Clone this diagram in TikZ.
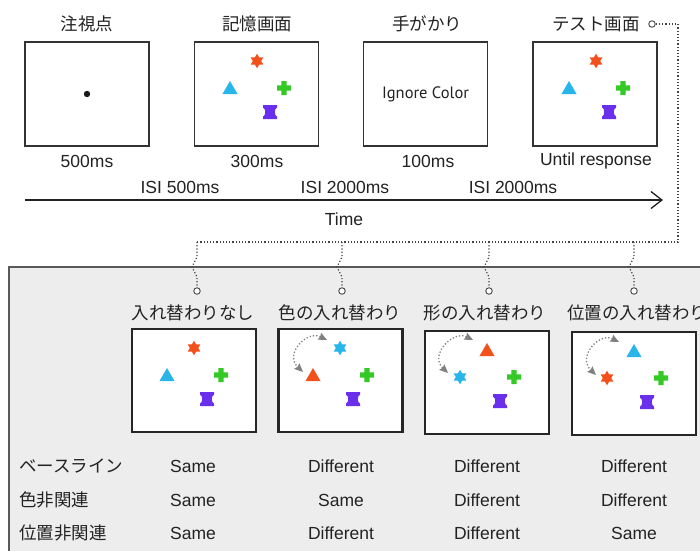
\documentclass[tikz,border=0pt]{standalone}
\usepackage{fontspec}
\setmainfont{Liberation Sans}
\newfontfamily\jp{Noto Sans CJK JP}
\newfontfamily\cuefont{PT Sans}
\usetikzlibrary{shapes.geometric,arrows.meta}
\definecolor{cR}{HTML}{F2511B}
\definecolor{cB}{HTML}{27B5EA}
\definecolor{cG}{HTML}{35C925}
\definecolor{cP}{HTML}{6A2FEA}
\definecolor{boxgray}{HTML}{EDEDED}
\definecolor{dotc}{HTML}{444444}
\definecolor{txt}{HTML}{222222}
\tikzset{
  lat/.style={text=txt,font=\fontsize{17.5}{21}\selectfont,inner sep=0pt},
  jpt/.style={text=txt,font=\jp\fontsize{17.5}{21}\selectfont,inner sep=0pt},
  topscreen/.style={draw=black!80,line width=1.6pt,fill=white,minimum width=124pt,minimum height=104pt,inner sep=0pt},
  botscreen/.style={draw=black!85,line width=2.2pt,fill=white,minimum width=124pt,minimum height=103pt,inner sep=0pt},
  dotline/.style={draw=dotc,line width=1.2pt,dotted},
  hole/.style={circle,draw=dotc,line width=0.9pt,fill=white,minimum size=6.5pt,inner sep=0pt},
  swaparrow/.style={draw=gray,line width=1.3pt,dotted,{Stealth[length=8.5pt,width=7.5pt,fill=gray,inset=1pt]}-{Stealth[length=8.5pt,width=7.5pt,fill=gray,inset=1pt]}},
  starsix/.pic={\path[pic actions] (90:7.3)--(120:4.2)--(150:7.3)--(180:4.2)--(210:7.3)--(240:4.2)--(270:7.3)--(300:4.2)--(330:7.3)--(0:4.2)--(30:7.3)--(60:4.2)--cycle;},
  tri/.pic={\path[pic actions] (-7.5,6)--(7.5,6)--(0,-7)--cycle;},
  plus/.pic={\path[pic actions] (-2.6,-7)--(2.6,-7)--(2.6,-2.6)--(7,-2.6)--(7,2.6)--(2.6,2.6)--(2.6,7)--(-2.6,7)--(-2.6,2.6)--(-7,2.6)--(-7,-2.6)--(-2.6,-2.6)--cycle;},
  hglass/.pic={\path[pic actions] (-7,-7)--(7,-7)--(7,-4.5) .. controls (4,-3.5) and (4,3.5) .. (7,4.5)--(7,7)--(-7,7)--(-7,4.5) .. controls (-4,3.5) and (-4,-3.5) .. (-7,-4.5)--cycle;},
}
\begin{document}
\begin{tikzpicture}[x=1pt,y=-1pt]
\useasboundingbox (0,0) rectangle (700,550);
\fill[white] (0,0) rectangle (700,550);

% ---------- top row ----------
\node[jpt] (t1) at (87,24) {注視点};
\node[jpt] (t2) at (257,24) {記憶画面};
\node[jpt] (t3) at (427,24) {手がかり};
\node[jpt] (t4) at (596,24) {テスト画面};

\node[topscreen] (s1) at (87,94) {};
\node[topscreen] (s2) at (256.5,94) {};
\node[topscreen,font=\cuefont\fontsize{16.5}{20}\selectfont,text=txt] (s3) at (425.5,94) {Ignore Color};
\node[topscreen] (s4) at (595,94) {};

\fill[black!90] (s1.center) circle (3.2);

\foreach \px in {194,533}{
  \begin{scope}[shift={(\px,42)}]
    \pic[fill=cR] at (63,19) {starsix};
    \pic[fill=cB] at (36,46) {tri};
    \pic[fill=cG] at (90,46) {plus};
    \pic[fill=cP] at (76,70) {hglass};
  \end{scope}
}

\node[lat] (d1) at (87,161) {500ms};
\node[lat] (d2) at (257,161) {300ms};
\node[lat] (d3) at (428,161) {100ms};
\node[lat] (d4) at (596,161) {Until response};

\node[lat] (i1) at (180,187) {ISI 500ms};
\node[lat] (i2) at (345,187) {ISI 2000ms};
\node[lat] (i3) at (513,187) {ISI 2000ms};

\coordinate (ta) at (25,200);
\coordinate (tb) at (663,200);
\draw[draw=txt,line width=1.3pt,-{Straight Barb[length=11pt,width=17pt,line width=1.3pt]}] (ta) -- (tb);
\node[lat] (time) at (344,219) {Time};

% ---------- bottom gray area ----------
\draw[fill=boxgray,draw=black!65,line width=1.3pt] (9,267) rectangle (720,570);

\node[hole] (h0) at (652,24) {};
\coordinate (k1) at (678,24);
\coordinate (k2) at (678,242);
\coordinate (j1) at (197,242);
\draw[dotline] (h0) -- (k1) -- (k2) -- (j1);

\foreach \n/\x in {1/197,2/342,3/489,4/634}{
  \node[hole] (h\n) at (\x,291) {};
  \coordinate (jj\n) at (\x,242);
  \draw[dotline] (jj\n) -- ++(0,15) -- ++(-5,10) -- ++(5,10) -- (h\n);
}

\node[jpt] (l1) at (193,313) {入れ替わりなし};
\node[jpt] (l2) at (340,313) {色の入れ替わり};
\node[jpt] (l3) at (485,313) {形の入れ替わり};
\node[jpt] (l4) at (637,313) {位置の入れ替わり};

\node[botscreen] (b1) at (194,380.5) {};
\node[botscreen] (b2) at (340.5,380.5) {};
\node[botscreen] (b3) at (487,382.5) {};
\node[botscreen] (b4) at (634,383.5) {};

% panel 1: no swap
\begin{scope}[shift={(132,329)}]
  \pic[fill=cR] at (62,19) {starsix};
  \pic[fill=cB] at (35,46) {tri};
  \pic[fill=cG] at (89,46) {plus};
  \pic[fill=cP] at (75,70) {hglass};
\end{scope}
% panel 2: colour swap
\begin{scope}[shift={(278,329)}]
  \pic[fill=cB] at (62,19) {starsix};
  \pic[fill=cR] at (35,46) {tri};
  \pic[fill=cG] at (89,46) {plus};
  \pic[fill=cP] at (75,70) {hglass};
  \coordinate (a2) at (49,11); \coordinate (c2) at (25,43);
  \draw[swaparrow] (a2) .. controls (29,1) and (6,25) .. (c2);
\end{scope}
% panel 3: shape swap
\begin{scope}[shift={(425,331)}]
  \pic[fill=cR] at (62,19) {tri};
  \pic[fill=cB] at (35,46) {starsix};
  \pic[fill=cG] at (89,46) {plus};
  \pic[fill=cP] at (75,70) {hglass};
  \coordinate (a3) at (48,9); \coordinate (c3) at (23,42);
  \draw[swaparrow] (a3) .. controls (28,-1) and (4,24) .. (c3);
\end{scope}
% panel 4: location swap
\begin{scope}[shift={(572,332)}]
  \pic[fill=cB] at (62,19) {tri};
  \pic[fill=cR] at (35,46) {starsix};
  \pic[fill=cG] at (89,46) {plus};
  \pic[fill=cP] at (75,70) {hglass};
  \coordinate (a4) at (47,10); \coordinate (c4) at (24,43);
  \draw[swaparrow] (a4) .. controls (27,0) and (5,25) .. (c4);
\end{scope}

% ---------- table ----------
\node[jpt,anchor=west] (r1) at (19,466) {ベースライン};
\node[jpt,anchor=west] (r2) at (19,500) {色非関連};
\node[jpt,anchor=west] (r3) at (19,533) {位置非関連};

\node[lat] (v11) at (193,466) {Same};
\node[lat] (v12) at (341,466) {Different};
\node[lat] (v13) at (487,466) {Different};
\node[lat] (v14) at (634,466) {Different};
\node[lat] (v21) at (193,500) {Same};
\node[lat] (v22) at (341,500) {Same};
\node[lat] (v23) at (487,500) {Different};
\node[lat] (v24) at (634,500) {Different};
\node[lat] (v31) at (193,533) {Same};
\node[lat] (v32) at (341,533) {Different};
\node[lat] (v33) at (487,533) {Different};
\node[lat] (v34) at (634,533) {Same};
\end{tikzpicture}
\end{document}
